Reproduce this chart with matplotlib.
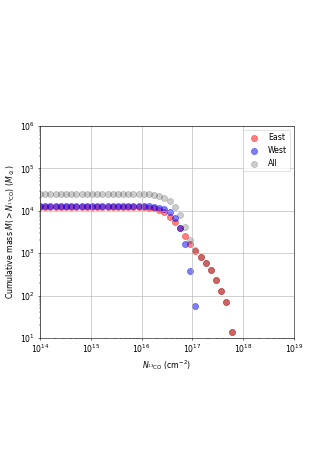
import numpy as np
from matplotlib import pyplot as plt

plt.rcParams['font.size'] = 11

# log10 of 13CO column density at each threshold (cm^-2)
logN = [14.00, 14.10, 14.20, 14.31, 14.41, 14.51, 14.61, 14.71, 14.82, 14.92,
        15.02, 15.12, 15.22, 15.33, 15.43, 15.53, 15.63, 15.73, 15.84, 15.94,
        16.04, 16.14, 16.24, 16.35, 16.45, 16.55, 16.65, 16.76, 16.86, 16.96,
        17.06, 17.16, 17.27, 17.37, 17.47, 17.57, 17.67, 17.78]

# cumulative mass above each threshold (Msun)
mass_east = [12300] * 19 + [12200, 12000, 11800, 11500, 10500, 9100, 7000, 5500,
                            4000, 2600, 1670, 1150, 830, 590, 405, 229, 126, 69, 14]
mass_west = [13100] * 19 + [13100, 13000, 12800, 12200, 11800, 11000, 9500, 6600,
                            4000, 1650, 386, 58]
mass_all = [25400] * 19 + [25300, 25000, 24500, 23600, 22300, 20400, 16700, 12300,
                           7900, 4200, 2060, 1210, 830, 590, 405, 229, 126, 69, 14]

N = 10.0 ** np.array(logN)

fig = plt.figure(figsize=(6.412, 9.079), dpi=51)
ax = fig.add_axes([0.1223, 0.270, 0.777, 0.458])

ax.scatter(N[:len(mass_east)], mass_east, s=75, color='r', alpha=0.5, label='East')
ax.scatter(N[:len(mass_west)], mass_west, s=75, color='b', alpha=0.5, label='West')
ax.scatter(N[:len(mass_all)], mass_all, s=75, color='k', alpha=0.2, label='All')

ax.set_xscale('log')
ax.set_yscale('log')
ax.set_xlim(1e14, 1e19)
ax.set_ylim(1e1, 1e6)
ax.grid()
ax.legend(loc='upper right')

ax.set_xlabel(r'$N_{^{13}\mathrm{CO}}$ (cm$^{-2}$)')
ax.set_ylabel(r'Cumulative mass $M( > N_{^{13}\mathrm{CO}})$ ($M_\odot$)')

fig.savefig('out.png', dpi=51)
